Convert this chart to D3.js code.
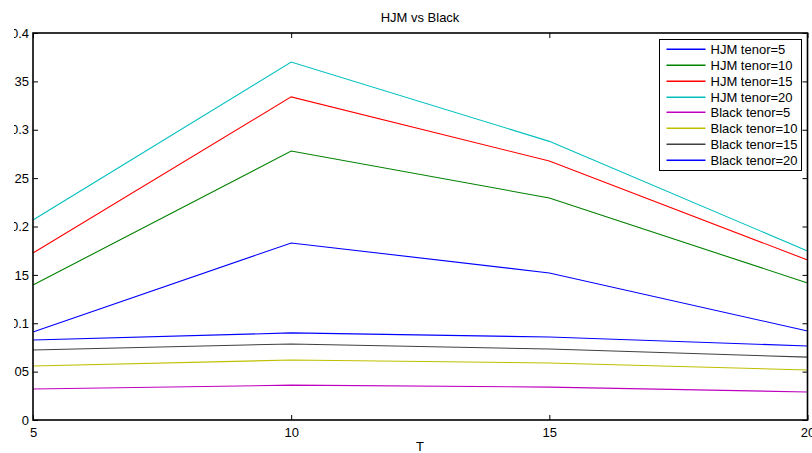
<!DOCTYPE html>
<html>
<head>
<meta charset="utf-8">
<script src="https://cdn.jsdelivr.net/npm/d3@7"></script>
<style>
  body { margin: 0; background: #fff; }
  svg { display: block; font-family: "Liberation Sans", Arial, sans-serif; }
</style>
</head>
<body>
<svg id="plot" width="812" height="453"></svg>
<script>
// maturities T
const maturities = [5, 10, 15, 20];

// HJM model values per tenor
const hjm5 = [0.091, 0.183, 0.152, 0.092];
const hjm10 = [0.1395, 0.278, 0.2295, 0.1416];
const hjm15 = [0.1726, 0.334, 0.2677, 0.1654];
const hjm20 = [0.2067, 0.370, 0.288, 0.1747];

// Black model values per tenor
const black5 = [0.032, 0.036, 0.034, 0.029];
const black10 = [0.0558, 0.062, 0.0589, 0.0517];
const black15 = [0.0724, 0.0786, 0.0734, 0.065];
const black20 = [0.0827, 0.090, 0.0858, 0.0765];

const seriesNames = [
    'HJM tenor=5', 'HJM tenor=10', 'HJM tenor=15', 'HJM tenor=20',
    'Black tenor=5', 'Black tenor=10', 'Black tenor=15', 'Black tenor=20'
];
const seriesValues = [hjm5, hjm10, hjm15, hjm20, black5, black10, black15, black20];
const seriesColors = ['#0000ff', '#008000', '#ff0000', '#00bfbf', '#bf00bf', '#bfbf00', '#404040', '#0000ff'];

const xTicks = [5, 10, 15, 20];
const yTicks = [0, 0.05, 0.1, 0.15, 0.2, 0.25, 0.3, 0.35, 0.4];

const margins = { left: 33, right: 4.5, top: 33, bottom: 33 };
const width = 812, height = 453;

const svg = d3.select('#plot');

const x = d3.scaleLinear().domain([5, 20]).range([margins.left, width - margins.right]);
const y = d3.scaleLinear().domain([0, 0.4]).range([height - margins.bottom, margins.top]);

// the reference picture was cropped on the left, cutting the y tick labels
svg.append('defs').append('clipPath')
    .attr('id', 'labelClip')
    .append('rect')
    .attr('x', 14).attr('y', 0).attr('width', width).attr('height', height);

// lines
const line = d3.line()
    .x((d, i) => x(maturities[i]))
    .y((d) => y(d));

svg.append('g')
    .selectAll('path')
    .data(seriesValues)
    .join('path')
    .attr('d', (d) => line(d))
    .style('fill', 'none')
    .style('stroke', (d, i) => seriesColors[i])
    .style('stroke-width', 1.1);

// axes, MATLAB box style with inward ticks on all sides
const tick = 5;
const bottomAxis = svg.append('g')
    .attr('transform', `translate(0, ${y(0)})`)
    .call(d3.axisBottom(x).tickValues(xTicks).tickSize(-tick).tickPadding(8).tickFormat(d3.format('d')));
const topAxis = svg.append('g')
    .attr('transform', `translate(0, ${y(0.4)})`)
    .call(d3.axisTop(x).tickValues(xTicks).tickSize(-tick).tickFormat(''));
const leftAxis = svg.append('g')
    .attr('clip-path', 'url(#labelClip)')
    .append('g')
    .attr('transform', `translate(${x(5)}, 0)`)
    .call(d3.axisLeft(y).tickValues(yTicks).tickSize(-tick).tickPadding(4).tickFormat(d3.format('~g')));
const rightAxis = svg.append('g')
    .attr('transform', `translate(${x(20)}, 0)`)
    .call(d3.axisRight(y).tickValues(yTicks).tickSize(-tick).tickFormat(''));

[bottomAxis, topAxis, leftAxis, rightAxis].forEach((g) => {
    g.select('.domain').remove();
    g.selectAll('.tick line').style('stroke', '#000').style('stroke-width', 1);
    g.selectAll('.tick text')
        .style('font-size', '13px')
        .style('fill', '#000')
        .style('font-family', '"Liberation Sans", Arial, sans-serif');
});

svg.append('rect')
    .attr('x', x(5)).attr('y', y(0.4))
    .attr('width', x(20) - x(5)).attr('height', y(0) - y(0.4))
    .style('fill', 'none')
    .style('stroke', '#000')
    .style('stroke-width', 1.6);

// title and axis label
svg.append('text')
    .attr('x', 420).attr('y', 22)
    .attr('text-anchor', 'middle')
    .style('font-size', '13px')
    .text('HJM vs Black');

svg.append('text')
    .attr('x', 420).attr('y', 451)
    .attr('text-anchor', 'middle')
    .style('font-size', '13px')
    .text('T');

// legend
const legend = svg.append('g').attr('transform', 'translate(659.5, 39.5)');
legend.append('rect')
    .attr('width', 142).attr('height', 131)
    .style('fill', '#fff')
    .style('stroke', '#000')
    .style('stroke-width', 1);

const rows = legend.selectAll('.row')
    .data(seriesNames)
    .join('g')
    .attr('class', 'row')
    .attr('transform', (d, i) => `translate(0, ${Math.round(10 + i * 15.85)})`);

rows.append('rect')
    .attr('x', 7).attr('y', -1)
    .attr('width', 39).attr('height', 1.5)
    .style('fill', (d, i) => seriesColors[i]);

rows.append('text')
    .attr('x', 51).attr('y', 4.5)
    .style('font-size', '13px')
    .text((d) => d);
</script>
</body>
</html>
